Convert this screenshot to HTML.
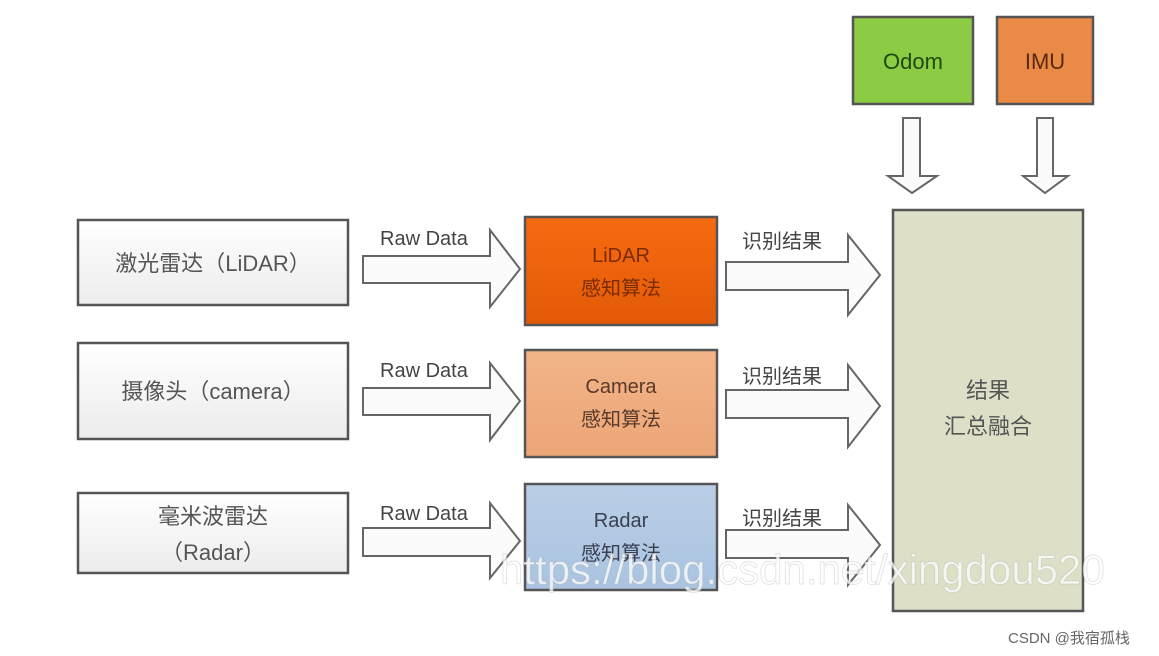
<!DOCTYPE html>
<html><head><meta charset="utf-8"><style>
html,body{margin:0;padding:0;background:#fff;}
svg{display:block;}
text{font-family:"Liberation Sans","Noto Sans CJK SC",sans-serif;}
</style></head><body>
<svg width="1159" height="656" viewBox="0 0 1159 656" xmlns="http://www.w3.org/2000/svg">
<defs>
<linearGradient id="gw" x1="0" y1="0" x2="0" y2="1"><stop offset="0" stop-color="#ffffff"/><stop offset="1" stop-color="#ececec"/></linearGradient>
<linearGradient id="go" x1="0" y1="0" x2="0" y2="1"><stop offset="0" stop-color="#f76a10"/><stop offset="1" stop-color="#e25a08"/></linearGradient>
<linearGradient id="gc" x1="0" y1="0" x2="0" y2="1"><stop offset="0" stop-color="#f2b488"/><stop offset="1" stop-color="#eca677"/></linearGradient>
<linearGradient id="gb" x1="0" y1="0" x2="0" y2="1"><stop offset="0" stop-color="#b9cfe6"/><stop offset="1" stop-color="#a9c3e0"/></linearGradient>
</defs>
<g stroke="#555" stroke-width="2.5">
<rect x="78" y="220" width="270" height="85" fill="url(#gw)"/>
<rect x="78" y="343" width="270" height="96" fill="url(#gw)"/>
<rect x="78" y="493" width="270" height="80" fill="url(#gw)"/>
<rect x="525" y="217" width="192" height="108" fill="url(#go)"/>
<rect x="525" y="350" width="192" height="107" fill="url(#gc)"/>
<rect x="525" y="484" width="192" height="106" fill="url(#gb)"/>
<rect x="893" y="210" width="190" height="401" fill="#dde0c6"/>
<rect x="853" y="17" width="120" height="87" fill="#8ccb44"/>
<rect x="997" y="17" width="96" height="87" fill="#e98a47"/>
</g>
<g fill="#fbfbfb" stroke="#666" stroke-width="2">
<polygon points="363,256 490,256 490,230 520,269 490,307 490,283 363,283"/>
<polygon points="363,388 490,388 490,363 520,401 490,440 490,415 363,415"/>
<polygon points="363,528 490,528 490,503 520,541 490,578 490,556 363,556"/>
<polygon points="726,262 848,262 848,235 880,275 848,315 848,290 726,290"/>
<polygon points="726,390 848,390 848,365 880,406 848,447 848,418 726,418"/>
<polygon points="726,530 848,530 848,505 880,545 848,585 848,558 726,558"/>
<polygon points="903,118 920,118 920,176 937,176 912,193 888,176 903,176"/>
<polygon points="1037,118 1053,118 1053,176 1068,176 1045,193 1023,176 1037,176"/>
</g>
<g font-size="22" fill="#555" text-anchor="middle">
<text x="213" y="271">激光雷达（LiDAR）</text>
<text x="213" y="399">摄像头（camera）</text>
<text x="213" y="524">毫米波雷达</text>
<text x="213" y="560">（Radar）</text>
</g>
<g font-size="20" fill="#444">
<text x="380" y="245">Raw Data</text>
<text x="380" y="377">Raw Data</text>
<text x="380" y="520">Raw Data</text>
<text x="742" y="248">识别结果</text>
<text x="742" y="383">识别结果</text>
<text x="742" y="525">识别结果</text>
</g>
<g font-size="20" text-anchor="middle">
<text x="621" y="262" fill="#7a2c00">LiDAR</text>
<text x="621" y="295" fill="#7a2c00">感知算法</text>
<text x="621" y="393" fill="#5a3a2a">Camera</text>
<text x="621" y="426" fill="#5a3a2a">感知算法</text>
<text x="621" y="527" fill="#3a4050">Radar</text>
<text x="621" y="560" fill="#3a4050">感知算法</text>
<text x="988" y="398" fill="#555" font-size="22">结果</text>
<text x="988" y="434" fill="#555" font-size="22">汇总融合</text>
<text x="913" y="69" fill="#1f4a10" font-size="22">Odom</text>
<text x="1045" y="69" fill="#5a2a10" font-size="22">IMU</text>
</g>
<text x="500" y="584" font-size="42" fill="#ffffff" fill-opacity="0.75" stroke="#999" stroke-opacity="0.25" stroke-width="1">https://blog.csdn.net/xingdou520</text>
<text x="1008" y="643" font-size="15" fill="#666">CSDN @我宿孤栈</text>
</svg>
</body></html>
